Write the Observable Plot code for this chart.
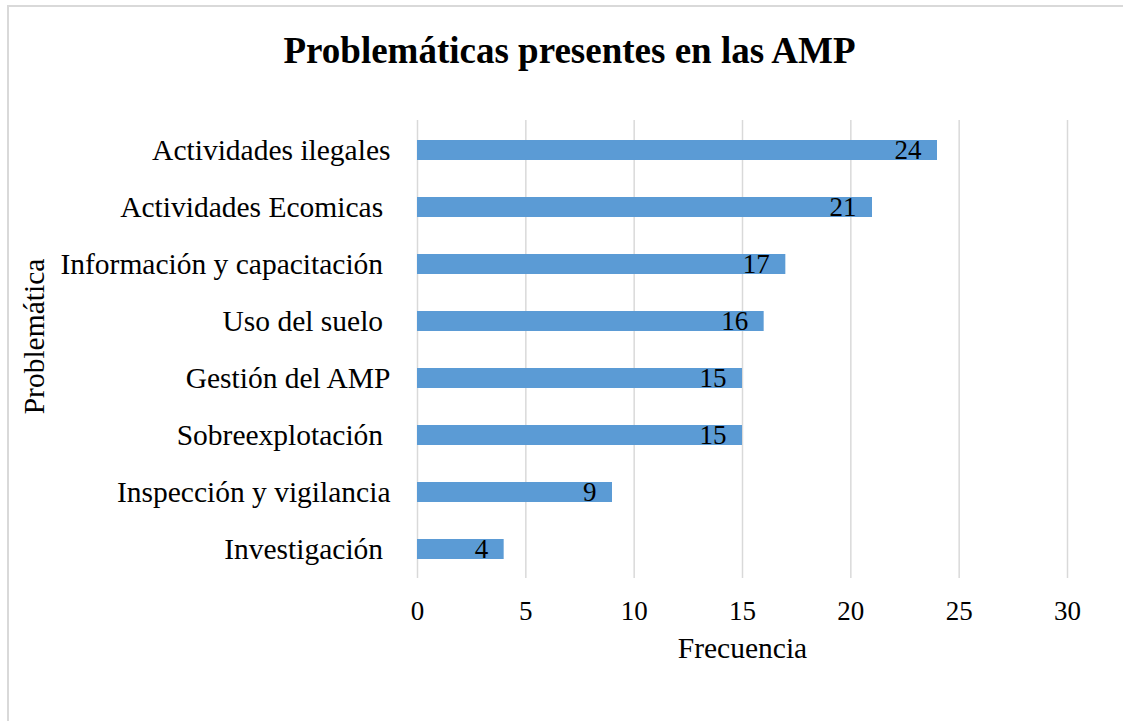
<!DOCTYPE html>
<html>
<head>
<meta charset="utf-8">
<script src="https://cdn.jsdelivr.net/npm/d3@7"></script>
<script src="https://cdn.jsdelivr.net/npm/@observablehq/plot@0.6"></script>
<style>
  html, body { margin: 0; padding: 0; background: #fff; }
  body { width: 1123px; height: 721px; overflow: hidden; position: relative; font-family: 'Liberation Serif', 'Times New Roman', serif; }
  #frame { position: absolute; left: 7px; top: 5px; width: 1200px; height: 800px; border: 2px solid #d9d9d9; box-sizing: border-box; pointer-events: none; }
  #title { height: 90px; box-sizing: border-box; padding-top: 30px; padding-left: 16px; text-align: center; font-size: 37px; line-height: 42px; font-weight: bold; color: #000; }
  #chart svg { display: block; }
  #chart svg text { white-space: pre; }
</style>
</head>
<body>
<div id="frame"></div>
<div id="title">Problemáticas presentes en las AMP</div>
<div id="chart"></div>
<script>
const categories = [
  "Actividades ilegales",
  "Actividades Ecomicas ",
  "Información y capacitación ",
  "Uso del suelo ",
  "Gestión del AMP",
  "Sobreexplotación ",
  "Inspección y vigilancia",
  "Investigación "
];
const values = [24, 21, 17, 16, 15, 15, 9, 4];
const xTicks = [0, 5, 10, 15, 20, 25, 30];
const xTitle = "Frecuencia";
const yTitle = "Problemática";

const data = categories.map((c, i) => ({category: c, value: values[i]}));
const serif = "'Liberation Serif', 'Times New Roman', serif";

const chart = Plot.plot({
  width: 1123,
  height: 631,
  marginLeft: 417,
  marginRight: 56,
  marginTop: 30,
  marginBottom: 143,
  style: {fontFamily: serif, fontSize: "29px", background: "transparent", color: "#000"},
  x: {domain: [0, 30]},
  y: {domain: categories, paddingInner: 0.65, paddingOuter: 0.3},
  marks: [
    Plot.gridX({ticks: xTicks, stroke: "#d9d9d9", strokeOpacity: 1, strokeWidth: 1.5}),
    Plot.barX(data, {x: "value", y: "category", fill: "#5b9bd5"}),
    Plot.text(data, {x: "value", y: "category", text: d => String(d.value), textAnchor: "end", dx: -16, fontSize: 27, fill: "#000"}),
    Plot.axisX({ticks: xTicks, tickSize: 0, tickPadding: 22, label: null, fontSize: 27}),
    Plot.axisY({tickSize: 0, tickPadding: 27, label: null, fontSize: 29.5, tickFormat: d => d}),
    Plot.text([xTitle], {frameAnchor: "bottom", lineAnchor: "middle", textAnchor: "middle", dy: 70, fontSize: 29.5, fill: "#000"}),
    Plot.text([yTitle], {frameAnchor: "left", lineAnchor: "middle", textAnchor: "middle", rotate: -90, dx: -383, dy: -13, fontSize: 29.5, fill: "#000"})
  ]
});
document.getElementById("chart").appendChild(chart);
</script>
</body>
</html>
